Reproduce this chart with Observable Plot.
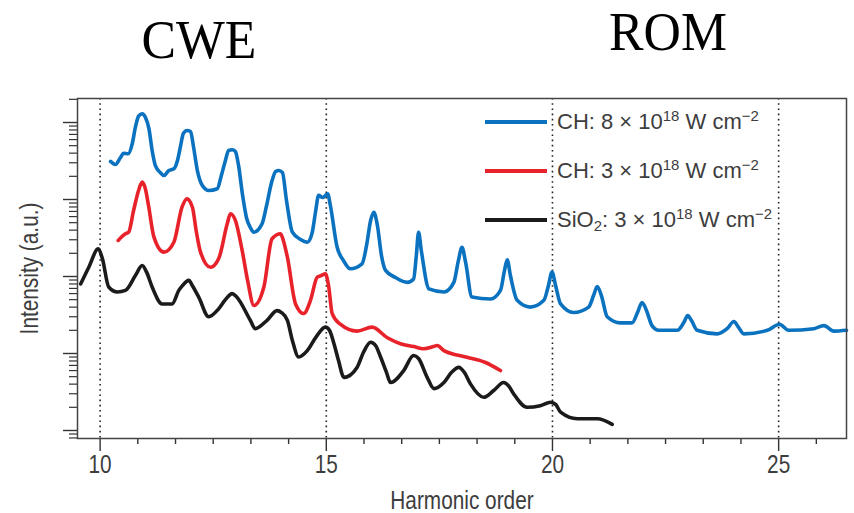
<!DOCTYPE html>
<html>
<head>
<meta charset="utf-8">
<script src="https://cdn.jsdelivr.net/npm/d3@7"></script>
<script src="https://cdn.jsdelivr.net/npm/@observablehq/plot@0.6"></script>
<style>
  html, body { margin: 0; padding: 0; background: #fff; }
  #wrap { position: relative; width: 854px; height: 513px; overflow: hidden; }
  .regime {
    position: absolute; font-family: "Liberation Serif", "Times New Roman", serif;
    font-size: 55px; line-height: 40px; color: #000; white-space: nowrap;
    transform: translateX(-50%) scaleX(0.94);
  }
  #legend {
    position: absolute; left: 485px; top: 97px;
    font-family: "Liberation Sans", Arial, sans-serif;
    font-size: 22px; color: #3d3d3d;
  }
  .row { height: 49px; display: flex; align-items: center; white-space: nowrap; }
  .swatch { width: 62px; height: 4px; margin-right: 10px; }
  .row sup { font-size: 0.68em; vertical-align: 0.55em; line-height: 0; }
  .row sub { font-size: 0.68em; vertical-align: -0.3em; line-height: 0; }
</style>
</head>
<body>
<div id="wrap">
  <div class="regime" style="left:199px; top:20px;">CWE</div>
  <div class="regime" style="left:668px; top:12px;">ROM</div>
  <div id="chart"></div>
  <div id="legend"></div>
</div>
<script>
// Harmonic spectra: [harmonic order, intensity (a.u.)]
const chHigh = [
  [10.23,3120],[10.34,2850],[10.45,3510],[10.52,3990],[10.62,3930],[10.71,5290],[10.78,8690],
  [10.85,12100],[10.93,13000],[11.00,11700],[11.08,8280],[11.15,4330],[11.22,2770],[11.33,2240],
  [11.41,2050],[11.52,2380],[11.63,2500],[11.71,3210],[11.78,5020],[11.84,7200],[11.92,7870],
  [12.00,7640],[12.06,5020],[12.15,2380],[12.26,1520],[12.40,1310],[12.59,1380],[12.68,2050],
  [12.77,3210],[12.84,4330],[12.92,4420],[12.99,4200],[13.06,2770],[13.15,1130],[13.24,566],
  [13.32,433],[13.40,376],[13.58,483],[13.68,836],[13.79,1660],[13.88,2310],[13.95,2380],
  [14.03,2240],[14.12,971],[14.25,376],[14.43,303],[14.58,279],[14.69,376],[14.76,678],
  [14.83,1130],[14.92,1060],[15.03,1190],[15.09,836],[15.24,240],[15.38,161],[15.53,126],
  [15.79,146],[15.89,253],[15.98,534],[16.05,684],[16.13,459],[16.22,187],[16.31,120],
  [16.53,97],[16.79,84],[16.93,93],[16.99,187],[17.04,376],[17.10,218],[17.27,69],[17.60,63],
  [17.82,84],[17.92,161],[18.00,240],[18.08,152],[18.22,54],[18.63,51],[18.85,66],[18.94,120],
  [19.00,165],[19.07,103],[19.22,49],[19.51,40],[19.81,49],[19.91,76],[19.99,114],[20.07,76],
  [20.18,44],[20.47,34],[20.80,40],[20.91,57],[20.99,74],[21.08,57],[21.21,30],[21.50,25],
  [21.76,25],[21.88,34],[21.98,46],[22.08,36],[22.20,23],[22.35,20],[22.76,20],[22.90,25],
  [22.99,31],[23.07,27],[23.20,20],[23.64,18],[23.86,21],[24.01,26],[24.11,22],[24.23,18],
  [24.75,20],[25.02,24],[25.22,20],[25.78,21],[26.00,23],[26.22,19.5],[26.50,20]
];
const chLow = [
  [10.40,294],[10.56,359],[10.63,376],[10.74,719],[10.85,1310],[10.93,1680],[11.00,1380],
  [11.07,836],[11.19,324],[11.41,207],[11.63,279],[11.81,794],[11.92,1020],[12.04,794],
  [12.13,373],[12.22,207],[12.44,132],[12.62,170],[12.81,483],[12.88,652],[12.99,534],
  [13.14,218],[13.26,89],[13.40,42],[13.62,73],[13.80,309],[13.99,359],[14.05,294],[14.14,178],
  [14.32,44],[14.50,33],[14.65,49],[14.80,98],[14.89,103],[14.98,108],[15.05,76],[15.13,33],
  [15.31,24],[15.68,19.5],[16.01,22],[16.35,16],[16.64,13.4],[16.93,12.3],[17.15,11.5],
  [17.37,12.3],[17.45,12.7],[17.60,10.9],[18.11,8.95],[18.52,7.64],[18.85,6.0]
];
const sio2 = [
  [9.57,80],[9.75,132],[9.96,229],[10.05,171],[10.19,73],[10.38,63],[10.56,66],[10.78,103],
  [10.93,139],[11.03,113],[11.15,73],[11.37,44],[11.59,44],[11.74,66],[11.82,76],[11.96,89],
  [12.04,76],[12.18,54],[12.40,30],[12.62,38],[12.77,50],[12.92,60],[13.01,55],[13.32,27],
  [13.43,21],[13.69,27],[13.91,36],[14.01,34],[14.14,27],[14.25,14.8],[14.39,9.0],[14.58,10.9],
  [14.78,16.6],[14.98,22],[15.07,20],[15.17,13.4],[15.27,8.1],[15.39,4.9],[15.68,6.6],
  [15.82,10.3],[15.98,14.0],[16.09,12.7],[16.20,9.0],[16.33,5.7],[16.42,4.2],[16.71,6.0],
  [16.93,9.4],[17.04,8.6],[17.23,4.9],[17.38,3.5],[17.60,4.2],[17.77,5.7],[17.93,6.6],
  [18.05,5.7],[18.19,4.0],[18.48,2.7],[18.70,3.3],[18.92,4.2],[19.03,3.8],[19.14,3.0],
  [19.44,2.0],[19.73,2.1],[19.96,2.33],[20.07,2.18],[20.18,1.73],[20.55,1.42],[20.99,1.42],
  [21.32,1.2]
];

const seriesNames = ["CH: 8 × 10¹⁸ W cm⁻²", "CH: 3 × 10¹⁸ W cm⁻²", "SiO₂: 3 × 10¹⁸ W cm⁻²"];
const seriesLegend = [
  "CH: 8 × 10<sup>18</sup> W cm<sup>−2</sup>",
  "CH: 3 × 10<sup>18</sup> W cm<sup>−2</sup>",
  "SiO<sub>2</sub>: 3 × 10<sup>18</sup> W cm<sup>−2</sup>"
];
const seriesColors = ["#0b72c0", "#e8222b", "#1b1b1b"];

// Axis ticks
const xMajor = [10, 15, 20, 25];
const xMinor = [10.833, 11.667, 12.5, 13.333, 14.167, 15.833, 16.667, 17.5, 18.333, 19.167,
                20.833, 21.667, 22.5, 23.333, 24.167, 25.833];
const yMajor = [1, 10, 100, 1000, 10000];
const yMinor = [0.8, 0.9,
  2, 3, 4, 5, 6, 7, 8, 9,
  20, 30, 40, 50, 60, 70, 80, 90,
  200, 300, 400, 500, 600, 700, 800, 900,
  2000, 3000, 4000, 5000, 6000, 7000, 8000, 9000,
  20000];

const rows = [chHigh, chLow, sio2].flatMap((s, i) =>
  s.map(([order, intensity]) => ({order, intensity, series: seriesNames[i]})));

const ink = "#3d3d3d";
const chart = Plot.plot({
  width: 854,
  height: 513,
  marginLeft: 77,
  marginRight: 8,
  marginTop: 98,
  marginBottom: 75,
  style: {
    fontFamily: '"Liberation Sans", Arial, sans-serif',
    fontSize: "26px",
    color: ink,
    background: "transparent"
  },
  x: {domain: [9.5, 26.5]},
  y: {type: "log", domain: [0.787, 20500]},
  color: {domain: seriesNames, range: seriesColors},
  marks: [
    Plot.ruleX(xMajor, {stroke: "#222", strokeWidth: 1.6, strokeDasharray: "1.6,3.6"}),
    Plot.axisX({ticks: xMajor, tickSize: 13, tickPadding: 3, tickFormat: d => String(d),
      stroke: "#333", strokeWidth: 1.4,
      label: "Harmonic order", labelAnchor: "center", labelArrow: "none", labelOffset: 70}),
    Plot.axisX({ticks: xMinor, tickSize: 6, tickFormat: () => "", stroke: "#333", strokeWidth: 1.4, label: null}),
    Plot.axisY({ticks: yMajor, tickSize: 14, tickFormat: () => "", stroke: "#333", strokeWidth: 1.4,
      label: "Intensity (a.u.)", labelAnchor: "center", labelArrow: "none", labelOffset: 58}),
    Plot.axisY({ticks: yMinor, tickSize: 8, tickFormat: () => "", stroke: "#333", strokeWidth: 1.2, label: null}),
    Plot.line(rows, {x: "order", y: "intensity", z: "series", stroke: "series",
      strokeWidth: 3.6, curve: "monotone-x", strokeLinejoin: "round", strokeLinecap: "round"}),
    Plot.frame({stroke: "#444", strokeWidth: 1.5})
  ]
});
chart.style.position = "absolute";
chart.style.left = "0px";
chart.style.top = "0px";
document.getElementById("chart").append(chart);

// Condensed sans lettering for the axis texts
chart.querySelectorAll("text").forEach(t => {
  const len = t.getComputedTextLength();
  if (len > 0) {
    t.setAttribute("textLength", (len * 0.8).toFixed(1));
    t.setAttribute("lengthAdjust", "spacingAndGlyphs");
  }
});

// Legend
const legend = document.getElementById("legend");
seriesLegend.forEach((html, i) => {
  const row = document.createElement("div");
  row.className = "row";
  const sw = document.createElement("span");
  sw.className = "swatch";
  sw.style.background = seriesColors[i];
  const label = document.createElement("span");
  label.innerHTML = html;
  row.append(sw, label);
  legend.append(row);
});
</script>
</body>
</html>
